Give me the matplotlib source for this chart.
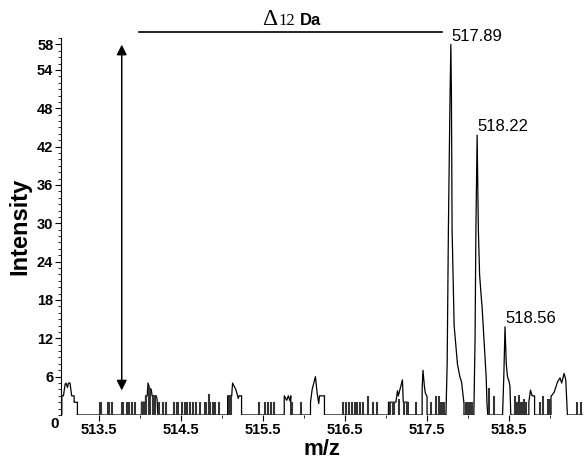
import matplotlib
matplotlib.use('Agg')
from matplotlib import pyplot as plt
from matplotlib.ticker import MultipleLocator, FixedLocator

# profile trace (m/z, intensity) for the peaks and the broader noise bumps
trace_mz = [513.04,
            513.05, 513.05, 513.07, 513.09, 513.10, 513.12, 513.13, 513.15, 513.17, 513.20, 513.20, 513.24, 513.24,
            514.02, 514.02, 514.07, 514.07, 514.09, 514.10, 514.12, 514.14, 514.15, 514.20, 514.21, 514.22,
            515.07, 515.07, 515.12, 515.13, 515.15, 515.17, 515.20, 515.21, 515.24, 515.24,
            515.76, 515.76, 515.79, 515.81, 515.83, 515.84, 515.84,
            516.08, 516.08, 516.10, 516.12, 516.14, 516.16, 516.18, 516.19, 516.25, 516.25,
            517.03, 517.03, 517.12, 517.14, 517.15, 517.18, 517.20, 517.21, 517.27, 517.27,
            517.44, 517.44, 517.45, 517.47, 517.48, 517.50, 517.50,
            517.73, 517.745, 517.76, 517.78, 517.79, 517.797, 517.805, 517.83, 517.87, 517.90, 517.92, 517.95, 517.95,
            518.07, 518.085, 518.095, 518.11, 518.125, 518.14, 518.16, 518.17, 518.22, 518.23, 518.24,
            518.42, 518.435, 518.45, 518.465, 518.48, 518.50, 518.51, 518.52,
            518.74, 518.74, 518.76, 518.78, 518.81, 518.81,
            519.01, 519.01, 519.05, 519.09, 519.12, 519.14, 519.17, 519.19, 519.21,
            519.40]
trace_int = [0,
             0, 3, 3, 4.8, 5, 4.3, 5, 5, 3, 3, 2, 2, 0,
             0, 2, 2, 3, 3, 5, 4.2, 4, 3, 3, 2.5, 0,
             0, 3, 3, 5, 4.5, 4, 2.6, 3, 3, 0,
             0, 3, 2.3, 3, 2.2, 3, 0,
             0, 2, 4, 5, 6, 3.5, 1.8, 3, 3, 0,
             0, 2, 2, 3.8, 3, 4.5, 5.5, 2, 2, 0,
             0, 4, 7, 4.2, 3.4, 2.9, 0,
             0, 8, 29, 50, 58, 50, 29, 14, 8, 6, 5.2, 1.8, 0,
             0, 12, 29, 43.8, 29, 22, 18.5, 17, 6, 1.8, 0,
             0, 6, 13.8, 8, 6, 5.2, 4.5, 0,
             0, 2, 3.9, 3, 3, 0,
             0, 2.9, 3.6, 5.2, 5.8, 5, 6.5, 5.5, 0,
             0]

# single noise spikes
spike_mz = [513.51, 513.53, 513.61, 513.63, 513.66, 513.78, 513.80, 513.84, 513.87, 513.90, 513.94,
            514.03, 514.05, 514.06, 514.08, 514.11, 514.13, 514.16, 514.18,
            514.24, 514.28, 514.32, 514.42, 514.45, 514.47, 514.51, 514.55, 514.57, 514.61,
            514.65, 514.69, 514.73, 514.79, 514.81, 514.84, 514.86, 514.89, 514.92, 514.97,
            515.09, 515.11, 515.45, 515.52, 515.56, 515.60, 515.64, 515.86, 515.97,
            516.47, 516.51, 516.55, 516.59, 516.62, 516.65, 516.68, 516.72, 516.78, 516.84, 516.89,
            517.05, 517.08, 517.10, 517.16, 517.22, 517.25, 517.36, 517.55, 517.61, 517.64,
            517.67, 517.69, 517.71,
            517.97, 517.99, 518.01, 518.03, 518.05, 518.26, 518.32,
            518.57, 518.60, 518.62, 518.64, 518.66, 518.68, 518.70,
            518.87, 518.91, 518.97, 519.00, 519.33, 519.38]
spike_h = [2, 2, 2, 2, 2, 2, 2, 2, 2, 2, 2,
           2, 2, 2, 3, 4.5, 4, 3, 3,
           2, 2, 2, 2, 2, 2, 2, 2, 2, 2,
           2, 2, 2, 2, 2, 3.3, 2, 2, 2, 2,
           3, 3, 2, 2, 2, 2, 2, 2, 2,
           2, 2, 2, 2, 2, 2, 2, 2, 3, 2, 2,
           2, 2, 2, 2.5, 2, 2, 2, 2, 3, 3,
           2, 2, 2,
           2, 2, 2, 2, 2, 4.2, 2.9,
           2.9, 2, 3.1, 2, 2, 2.5, 2,
           2, 2.9, 2.5, 2.5, 2, 2]

peak_mz = [517.79, 518.11, 518.45]
peak_int = [58, 43.8, 13.8]
peak_labels = ['517.89', '518.22', '518.56']

xticks = [513.5, 514.5, 515.5, 516.5, 517.5, 518.5]
yticks = [6, 12, 18, 24, 30, 36, 42, 48, 54, 58]

plt.rcParams['font.family'] = ['Liberation Sans', 'DejaVu Sans']

fig = plt.figure(figsize=(5.84, 4.63), dpi=100)
ax = fig.add_axes([61/584, 48/463, 522/584, 377/463])

ax.plot(trace_mz, trace_int, color='black', lw=0.9)
ax.vlines(spike_mz, 0, spike_h, color='#333333', lw=1.5)

# peak labels
for mz, h, lab in zip(peak_mz, peak_int, peak_labels):
    ax.text(mz + 0.005, h + 1.3, lab, fontsize=12, ha='left', va='center')

# double headed arrow and the delta bar
ax.annotate('', xy=(513.78, 58.4), xytext=(513.78, 3.4),
            arrowprops=dict(arrowstyle='<|-|>', color='black', lw=1.1, mutation_scale=15))
ax.plot([513.99, 517.68], [59.9, 59.9], color='black', lw=1.2, clip_on=False)

fig.text(262/584, 1 - 25/463, '\u0394', family='Liberation Serif', fontsize=17, va='baseline')
fig.text(278/584, 1 - 25/463, '12', family='Liberation Serif', fontsize=12, va='baseline')
fig.text(300/584, 1 - 25/463, 'Da', fontsize=12, fontweight='bold', va='baseline')

ax.set_xlim(513.04, 519.40)
ax.set_ylim(0, 59)
ax.set_xticks(xticks)
ax.xaxis.set_minor_locator(FixedLocator([514.0, 515.0, 516.0, 517.0, 518.0, 519.0]))
ax.set_yticks(yticks)
ax.yaxis.set_minor_locator(MultipleLocator(1))
ax.tick_params(axis='both', which='major', labelsize=10.5, length=4, width=0.8, pad=1.5)
ax.tick_params(axis='both', which='minor', length=2, width=0.6)
for lab in ax.get_xticklabels() + ax.get_yticklabels():
    lab.set_fontweight('bold')
ax.spines['top'].set_visible(False)
ax.spines['right'].set_visible(False)
ax.spines['bottom'].set_visible(False)

ax.text(-0.004, -0.005, '0', transform=ax.transAxes, fontsize=11, fontweight='bold', ha='right', va='top')

ax.set_xlabel('m/z', fontsize=16, fontweight='bold', labelpad=2)
ax.set_ylabel('Intensity', fontsize=17, fontweight='bold', labelpad=4)

fig.savefig('out.png', dpi=100)
